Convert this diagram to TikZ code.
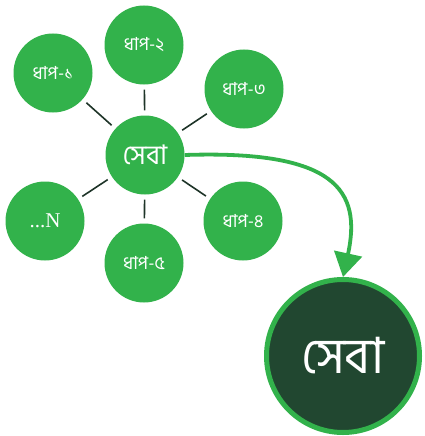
\documentclass[tikz,border=0pt]{standalone}
\usepackage{fontspec}
\newfontfamily\bn[Script=Bengali]{Hind Siliguri}
\newfontfamily\sr{Liberation Serif}
\usetikzlibrary{arrows.meta}
\definecolor{gr}{RGB}{50,178,75}
\definecolor{dk}{RGB}{33,71,48}
\definecolor{ln}{RGB}{30,52,40}
\begin{document}
\begin{tikzpicture}[x=1pt,y=-1pt,
  sat/.style={circle,fill=gr,minimum size=79pt,inner sep=0pt,text=white,font=\bn\fontsize{18}{20}\selectfont},
  hub/.style={circle,fill=gr,minimum size=79pt,inner sep=0pt,text=white,font=\bn\fontsize{27}{30}\selectfont},
  big/.style={circle,fill=dk,draw=gr,line width=5pt,minimum size=153pt,inner sep=0pt,text=white,font=\bn\fontsize{50}{56}\selectfont},
  spoke/.style={draw=ln,line width=1.6pt,shorten >=5pt,shorten <=5pt}]
\useasboundingbox (0,0) rectangle (424,436);
\node[hub] (c) at (145,155) {সেবা};
\node[sat] (s1) at (53,73) {ধাপ-১};
\node[sat] (s2) at (144,45) {ধাপ-২};
\node[sat] (s3) at (244,89) {ধাপ-৩};
\node[sat] (s4) at (243,221) {ধাপ-৪};
\node[sat] (s5) at (144,263) {ধাপ-৫};
\node[sat,font=\sr\fontsize{21}{24}\selectfont] (sn) at (45,221) {...N};
\node[big] (b) at (343,356) {সেবা};
\foreach \s in {s1,s2,s3,s4,s5,sn} \draw[spoke] (c) -- (\s);
\draw[gr,line width=3.8pt,-{Triangle[length=24pt,width=28pt]}]
  (c.east) .. controls (335,150) and (362,190) .. (b.north);
\end{tikzpicture}
\end{document}
